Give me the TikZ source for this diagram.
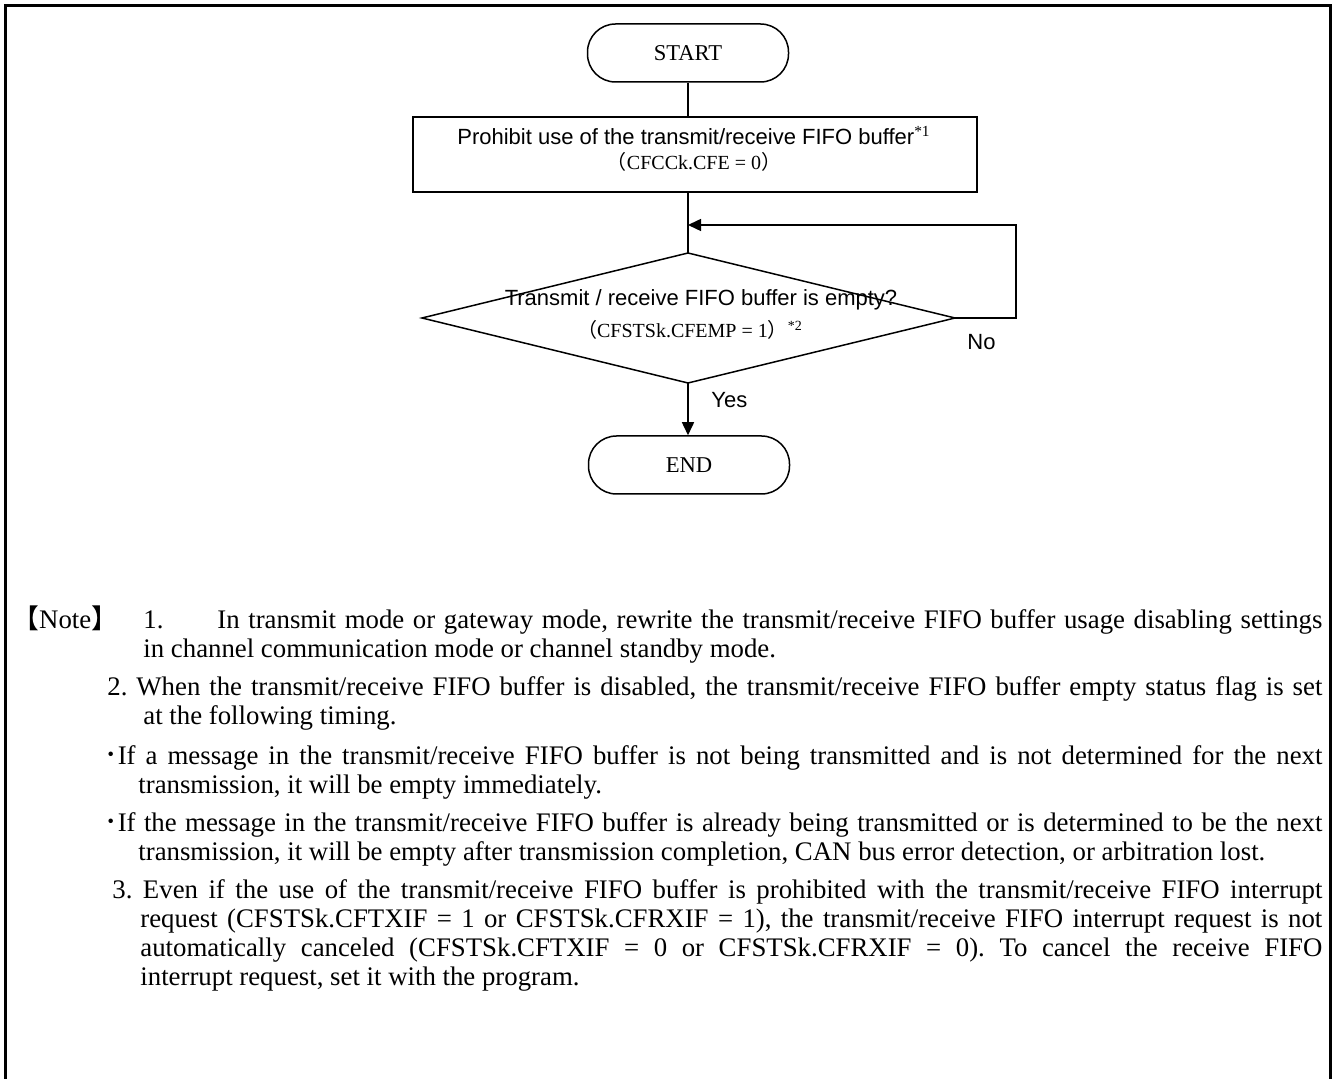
\documentclass[tikz,border=0pt]{standalone}
\usepackage{fontspec}
\setmainfont{Liberation Serif}
\newfontfamily\sansf{Liberation Sans}
\newfontfamily\cjkf{Noto Sans CJK JP}
\usetikzlibrary{arrows.meta}
\newcommand{\flp}{{\cjkf （}}
\newcommand{\frp}{{\cjkf ）}}
\frenchspacing
\begin{document}
\begin{tikzpicture}[x=0.5pt,y=-0.5pt,
  frame/.style={line width=1.5pt},
  shp/.style={line width=0.75pt},
  term/.style={draw,line width=0.75pt,rounded corners=14pt,minimum width=100.5pt,minimum height=29pt,inner sep=0pt,font=\fontsize{11.3}{13}\selectfont},
  procbox/.style={draw,line width=0.75pt,minimum width=282pt,minimum height=37.5pt,inner sep=0pt},
  sanslbl/.style={inner sep=0pt,font=\sansf\fontsize{11}{13}\selectfont},
  serlbl/.style={inner sep=0pt,font=\fontsize{10}{12}\selectfont},
  note/.style={anchor=base west,inner sep=0pt,font=\fontsize{13.4}{15}\selectfont},
  arr/.style={line width=0.75pt,-{Triangle[length=6.5pt,width=6pt]}}]
\useasboundingbox (0,0) rectangle (1334,1079);
\draw[frame] (5,1079) -- (5,6) -- (1330,6) -- (1330,1079);
% flowchart
\node[term] (start) at (688,53) {START};
\node[procbox] (proc) at (695,154.5) {};
\node[sanslbl] (proct1) at (694,136) {Prohibit use of the transmit/receive FIFO buffer{\rmfamily\textsuperscript{*1}}};
\node[serlbl] (proct2) at (694,162) {\flp CFCCk.CFE = 0\frp};
\coordinate (dT) at (688,253);
\coordinate (dR) at (955,318);
\coordinate (dB) at (688,383);
\coordinate (dL) at (422,318);
\draw[shp] (dT) -- (dR) -- (dB) -- (dL) -- cycle;
\node[sanslbl] (dt1) at (701,300) {Transmit / receive FIFO buffer is empty?};
\node[serlbl] (dt2) at (690,330) {\flp CFSTSk.CFEMP = 1\frp\textsuperscript{*2}};
\node[term] (end) at (689,465) {END};
\draw[shp] (start.south) -- (start.south |- proc.north);
\draw[shp] (start.south |- proc.south) -- (dT);
\coordinate (lr) at (1016,318);
\coordinate (lt) at (1016,225);
\draw[arr] (dR) -- (lr) -- (lt) -- (lt -| dT);
\draw[arr] (dB) -- (dB |- end.north);
\node[sanslbl,anchor=west] (no) at (967,342) {No};
\node[sanslbl,anchor=west] (yes) at (711,400) {Yes};
% notes
\node[note] (n0) at (12,629) {{\cjkf 【}Note{\cjkf 】}};
\node[note] (n1a) at (143,629) {1.};
\node[note] (n1b) at (217,629) {\makebox[552.5pt][s]{In transmit mode or gateway mode, rewrite the transmit/receive FIFO buffer usage disabling settings}};
\node[note] (n1c) at (143,658) {in channel communication mode or channel standby mode.};
\node[note] (n2a) at (107,696) {\makebox[607.5pt][s]{2. When the transmit/receive FIFO buffer is disabled, the transmit/receive FIFO buffer empty status flag is set}};
\node[note] (n2b) at (143,725) {at the following timing.};
\node[note] (n3a) at (104,764) {\makebox[609pt][s]{{\cjkf ･}If a message in the transmit/receive FIFO buffer is not being transmitted and is not determined for the next}};
\node[note] (n3b) at (138,793) {transmission, it will be empty immediately.};
\node[note] (n4a) at (104,831) {\makebox[609pt][s]{{\cjkf ･}If the message in the transmit/receive FIFO buffer is already being transmitted or is determined to be the next}};
\node[note] (n4b) at (138,860) {transmission, it will be empty after transmission completion, CAN bus error detection, or arbitration lost.};
\node[note] (n5a) at (112,898) {\makebox[605pt][s]{3. Even if the use of the transmit/receive FIFO buffer is prohibited with the transmit/receive FIFO interrupt}};
\node[note] (n5b) at (140,927) {\makebox[591pt][s]{request (CFSTSk.CFTXIF = 1 or CFSTSk.CFRXIF = 1), the transmit/receive FIFO interrupt request is not}};
\node[note] (n5c) at (140,956) {\makebox[591pt][s]{automatically canceled (CFSTSk.CFTXIF = 0 or CFSTSk.CFRXIF = 0). To cancel the receive FIFO}};
\node[note] (n5d) at (140,985) {interrupt request, set it with the program.};
\end{tikzpicture}
\end{document}
